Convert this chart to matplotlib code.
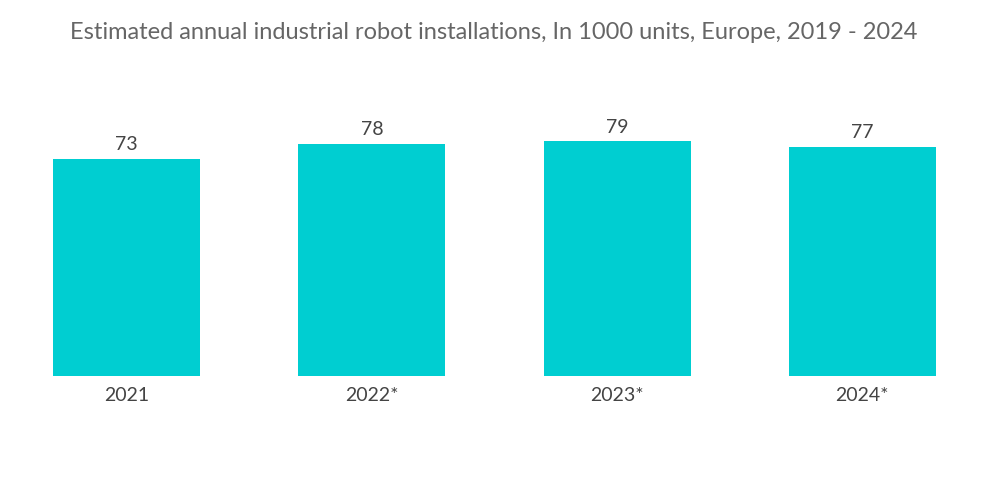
import matplotlib
matplotlib.use("Agg")
import matplotlib.pyplot as plt

years = ["2021", "2022*", "2023*", "2024*"]
installs = [73, 78, 79, 77]

plt.rcParams['font.family'] = ['Lato', 'DejaVu Sans']

fig = plt.figure(figsize=(10, 5.04), dpi=100)
ax = fig.add_axes([0.004, 0.254, 0.981, 0.589])

bars = ax.bar(range(len(years)), installs, width=0.6, color="#00CED1")
for i, v in enumerate(installs):
    ax.text(i, v + 2, str(v), ha="center", va="bottom", fontsize=14, color="#444444")

ax.set_xlim(-0.5, len(years) - 0.5)
ax.set_ylim(0, 100)
ax.set_xticks(range(len(years)))
ax.set_xticklabels(years, fontsize=14, color="#444444")
ax.tick_params(axis="x", length=0, pad=8)
ax.set_yticks([])
for s in ax.spines.values():
    s.set_visible(False)

fig.text(0.494, 0.935, "Estimated annual industrial robot installations, In 1000 units, Europe, 2019 - 2024",
         ha="center", va="center", fontsize=17, color="#666666")

fig.savefig("out.png", dpi=100)
